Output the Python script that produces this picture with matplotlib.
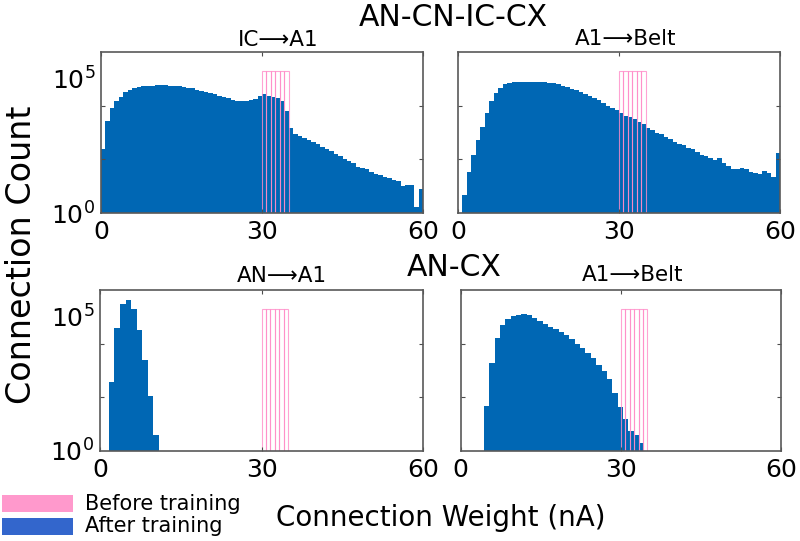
import numpy as np
import matplotlib
matplotlib.use('Agg')
from matplotlib import pyplot as plt
from matplotlib.patches import Rectangle
from matplotlib.ticker import FixedLocator, NullFormatter

plt.rcParams['font.family'] = ['DejaVu Sans']

# histogram data, counts in log10 units
# before training: weights 30..35 nA, six bins
pre_start, pre_width = 30.0, 5 / 6
pre_log = [5.29, 5.29, 5.29, 5.29, 5.29, 5.29]

# AN-CN-IC-CX, IC -> A1
tl_start, tl_width = 0.0, 5 / 6
tl_log = [2.38, 3.41, 3.90, 4.16, 4.31, 4.52, 4.60, 4.65, 4.69, 4.72,
          4.74, 4.75, 4.76, 4.76, 4.76, 4.75, 4.74, 4.72, 4.70, 4.67,
          4.64, 4.60, 4.56, 4.52, 4.47, 4.42, 4.37, 4.32, 4.27, 4.22,
          4.19, 4.17, 4.17, 4.20, 4.26, 4.37, 4.42, 4.37, 4.33, 4.27,
          4.17, 3.81, 3.18, 2.93, 2.87, 2.78, 2.72, 2.64, 2.56, 2.47,
          2.39, 2.30, 2.21, 2.12, 2.03, 1.95, 1.87, 1.72, 1.68, 1.65,
          1.52, 1.47, 1.43, 1.34, 1.30, 1.24, 1.18, 0.99, 1.05, 1.05,
          0.24, 0.89]

# AN-CN-IC-CX, A1 -> Belt
tr_start, tr_width = 5 / 6, 5 / 6
tr_log = [0.68, 1.53, 2.15, 2.71, 3.21, 3.71, 4.16, 4.47, 4.66, 4.79,
          4.85, 4.88, 4.89, 4.89, 4.89, 4.88, 4.87, 4.88, 4.87, 4.86,
          4.83, 4.79, 4.74, 4.69, 4.63, 4.57, 4.50, 4.43, 4.36, 4.28,
          4.20, 4.11, 4.00, 3.93, 3.84, 3.71, 3.62, 3.56, 3.50, 3.39,
          3.31, 3.18, 3.09, 3.00, 2.93, 2.85, 2.74, 2.66, 2.59, 2.52,
          2.43, 2.37, 2.28, 2.18, 2.12, 2.06, 1.97, 2.06, 1.87, 1.77,
          1.64, 1.65, 1.68, 1.64, 1.52, 1.49, 1.47, 1.58, 1.49, 1.34,
          2.22]

# AN-CX, AN -> A1
bl_start, bl_width = 1.65, 1.035
bl_log = [2.56, 4.58, 5.48, 5.64, 5.28, 4.52, 3.40, 2.05, 0.60]

# AN-CX, A1 -> Belt
br_start, br_width = 4.4, 1.0
br_log = [1.66, 3.28, 4.22, 4.69, 4.91, 5.03, 5.08, 5.09, 5.05, 4.96,
          4.85, 4.74, 4.63, 4.53, 4.44, 4.32, 4.16, 4.00, 3.85, 3.64,
          3.45, 3.22, 3.00, 2.70, 2.15, 1.64, 1.18, 0.74, 0.58, 0.29]

panels = [
    ('IC\u27f6A1', tl_start, tl_width, tl_log),
    ('A1\u27f6Belt', tr_start, tr_width, tr_log),
    ('AN\u27f6A1', bl_start, bl_width, bl_log),
    ('A1\u27f6Belt', br_start, br_width, br_log),
]

blue = '#0067b4'
pink = '#ff8cc8'
W, H = 800, 541

# axes boxes in pixels: left, top, right, bottom
boxes = [(101, 52, 423, 213), (458, 52, 780, 213),
         (100, 290, 423, 451), (460.5, 290, 781, 451)]
title_pos = [(278, 40), (626, 39), (282, 276), (633, 275)]

fig = plt.figure(figsize=(8, 5.41), dpi=100)

pre_counts = 10 ** np.array(pre_log)
pre_edges = pre_start + pre_width * np.arange(len(pre_log) + 1)

for i, (title, start, width, logc) in enumerate(panels):
    l, t, r, b = boxes[i]
    ax = fig.add_axes([l / W, 1 - b / H, (r - l) / W, (b - t) / H])
    counts = 10 ** np.array(logc)
    edges = start + width * np.arange(len(logc) + 1)
    ax.set_yscale('log')
    ax.stairs(counts, edges, baseline=1, fill=True, color=blue, lw=0)
    ax.bar(pre_edges[:-1], pre_counts - 1, width=pre_width, bottom=1,
           align='edge', fill=False, edgecolor=pink, linewidth=0.8,
           alpha=0.8)
    ax.set_xlim(0, 60)
    ax.set_ylim(1, 1e6)
    ax.set_xticks([0, 30, 60])
    ax.set_xticklabels(['0', '30', '60'])
    ax.set_yticks([1, 1e5])
    ax.yaxis.set_minor_locator(FixedLocator([1e2, 1e4]))
    ax.yaxis.set_minor_formatter(NullFormatter())
    if i % 2 == 0:
        ax.set_yticklabels(['10$^0$', '10$^5$'])
    else:
        ax.set_yticklabels([])
    ax.tick_params(axis='x', direction='in', length=3, width=0.8,
                   top=True, labelsize=18, pad=5, color='0.3')
    ax.tick_params(axis='y', which='major', length=0, labelsize=18, pad=4)
    ax.tick_params(axis='y', which='minor', direction='in', length=3,
                   width=0.8, right=True, color='0.3')
    for s in ax.spines.values():
        s.set_color('0.35')
        s.set_linewidth(1.2)
    tx, ty = title_pos[i]
    fig.text(tx / W, 1 - ty / H, title, ha='center', va='center',
             fontsize=15.5)

fig.text(453 / W, 1 - 17 / H, 'AN-CN-IC-CX', ha='center', va='center',
         fontsize=21.5)
fig.text(454 / W, 1 - 268 / H, 'AN-CX', ha='center', va='center',
         fontsize=21.5)
fig.text(22 / W, 1 - 255 / H, 'Connection Count', rotation=90,
         ha='center', va='center', fontsize=24)
fig.text(441 / W, 1 - 518 / H, 'Connection Weight (nA)', ha='center',
         va='center', fontsize=20)

# legend drawn as two patches with labels
leg_labels = ['Before training', 'After training']
leg_colors = ['#ff99cc', '#3366cc']
leg_rows = [(495, 512), (518, 535)]
for lab, col, (y0, y1) in zip(leg_labels, leg_colors, leg_rows):
    fig.add_artist(Rectangle((2 / W, 1 - y1 / H), 71 / W, (y1 - y0) / H,
                             transform=fig.transFigure, color=col, lw=0))
    fig.text(85 / W, 1 - (y0 + y1) / 2 / H, lab, ha='left', va='center',
             fontsize=15)

plt.savefig('out.png', dpi=100)
